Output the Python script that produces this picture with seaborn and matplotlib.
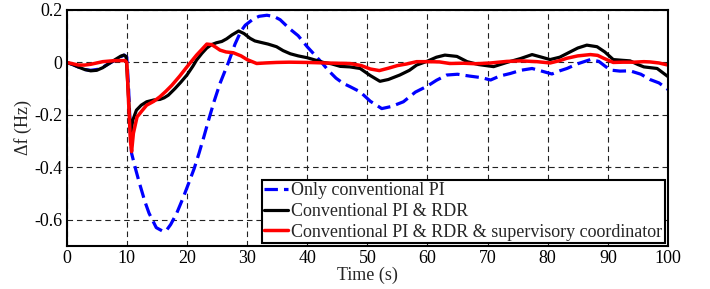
import matplotlib
matplotlib.use("Agg")
import matplotlib.pyplot as plt
import seaborn as sns
import pandas as pd

# ---- data ----
t_pi = [0, 1, 2, 3, 4, 5, 6, 7, 8, 9, 9.6, 10.0, 10.3, 10.6, 10.8, 11.5, 12.1, 13, 13.7, 14.9,
        16.1, 16.6, 17.3, 18.3, 19.3, 20.3, 21.2, 22, 22.8, 23.6, 24.5, 25.5, 26.9, 28, 29, 29.7,
        31, 32, 33.3, 34.5, 35.5, 37, 38.5, 40, 41.2, 42.4, 43.5, 44.8, 46, 47.1, 48.8, 50.5,
        52.4, 54, 56, 58, 60, 61.5, 63.2, 65, 67, 69, 70.5, 72, 73.8, 75.5, 77.4, 79, 80.7, 82,
        83.2, 85, 87.1, 88.5, 90.4, 92, 93.7, 95.5, 97, 98.5, 100]
f_pi = [0, -0.008, -0.018, -0.027, -0.03, -0.027, -0.018, -0.005, 0.008, 0.022, 0.028, 0.02,
        -0.1, -0.27, -0.347, -0.41, -0.46, -0.53, -0.575, -0.63, -0.645, -0.64, -0.618, -0.575,
        -0.52, -0.46, -0.405, -0.347, -0.285, -0.22, -0.15, -0.08, 0.0, 0.07, 0.12, 0.142,
        0.165, 0.176, 0.18, 0.175, 0.163, 0.13, 0.102, 0.06, 0.03, 0.0, -0.03, -0.06, -0.08,
        -0.092, -0.112, -0.148, -0.176, -0.168, -0.15, -0.113, -0.09, -0.068, -0.048, -0.045,
        -0.052, -0.058, -0.067, -0.052, -0.042, -0.03, -0.023, -0.033, -0.044, -0.032, -0.023,
        -0.005, 0.011, 0.004, -0.029, -0.033, -0.032, -0.045, -0.065, -0.078, -0.103]

t_rdr = [0, 1, 2, 3, 4, 5, 6, 7, 8, 9, 9.5, 9.9, 10.2, 10.5, 10.7, 11.0, 11.6, 12.4, 13.3,
         14.5, 15.5, 16.2, 16.9, 18, 19, 20, 21, 21.6, 22.5, 23.3, 24.1, 24.9, 25.8, 26.6, 27.5,
         28.6, 29.5, 30.5, 31.3, 32.2, 33.5, 34.9, 36, 37.2, 38.5, 40, 41.5, 42.7, 44, 45.5,
         47.1, 48.8, 50.5, 52.1, 53.5, 55.4, 57, 58.2, 60, 61.5, 62.9, 64.9, 66.6, 68.5, 71,
         73.2, 75.5, 77.4, 79, 80.4, 82, 83.2, 85, 86.5, 88.2, 89.5, 90.9, 92.5, 93.7, 95, 96,
         98.2, 100]
f_rdr = [0, -0.008, -0.018, -0.027, -0.032, -0.03, -0.02, -0.005, 0.01, 0.024, 0.028, 0.022,
         -0.1, -0.22, -0.265, -0.22, -0.182, -0.163, -0.15, -0.143, -0.141, -0.135, -0.125,
         -0.1, -0.075, -0.048, -0.014, 0.009, 0.035, 0.055, 0.068, 0.075, 0.08, 0.09, 0.105,
         0.12, 0.11, 0.092, 0.082, 0.077, 0.07, 0.06, 0.045, 0.033, 0.025, 0.018, 0.008, 0.0,
         -0.005, -0.015, -0.017, -0.023, -0.05, -0.072, -0.065, -0.048, -0.03, -0.01, 0.005,
         0.02, 0.028, 0.023, 0.003, -0.008, -0.016, 0.0, 0.015, 0.03, 0.02, 0.011, 0.02, 0.034,
         0.055, 0.066, 0.06, 0.04, 0.011, 0.008, 0.006, -0.008, -0.017, -0.023, -0.054]

t_sc = [0, 1, 2, 3, 4, 5, 6, 7, 8, 9.7, 10.0, 10.3, 10.6, 10.8, 11.1, 11.7, 12.5, 13.3, 14.5,
        15.5, 16.5, 17.5, 18.8, 20, 21.6, 22.5, 23.3, 24.1, 24.8, 25.5, 26.5, 27.7, 29, 30,
        31.6, 33, 34.9, 37, 40, 43, 45, 47.1, 49, 50.5, 52, 53.5, 55, 56.5, 58.2, 60, 62, 63.7,
        66, 68, 70.5, 73.2, 75.5, 78.2, 80.4, 82, 83.2, 85, 87.1, 88.3, 89.3, 90.9, 92.5, 94.3,
        96, 97, 98.5, 100]
f_sc = [0, -0.005, -0.01, -0.01, -0.007, -0.002, 0.003, 0.005, 0.007, 0.007, 0.0, -0.15, -0.3,
        -0.34, -0.27, -0.208, -0.185, -0.163, -0.148, -0.131, -0.11, -0.087, -0.052, -0.017,
        0.028, 0.05, 0.07, 0.068, 0.058, 0.047, 0.04, 0.037, 0.025, 0.011, -0.004, -0.002, 0.0,
        0.001, 0.0, -0.002, -0.003, -0.004, -0.012, -0.025, -0.031, -0.022, -0.012, -0.006,
        0.003, 0.003, 0.002, -0.004, -0.003, -0.005, -0.002, 0.004, 0.006, 0.003, -0.002,
        0.007, 0.016, 0.025, 0.03, 0.027, 0.016, 0.0, 0.001, 0.001, 0.003, 0.002, -0.002, -0.01]

labels = ["Only conventional PI",
          "Conventional PI & RDR",
          "Conventional PI & RDR & supervisory coordinator"]
xticks = [0, 10, 20, 30, 40, 50, 60, 70, 80, 90, 100]
yticks = [-0.6, -0.4, -0.2, 0, 0.2]
ytick_labels = ["-0.6", "-0.4", "-0.2", "0", "0.2"]

# ---- style ----
sns.set_style("white")
plt.rcParams["font.family"] = ["Liberation Serif", "DejaVu Serif"]
plt.rcParams["axes.unicode_minus"] = False

fig = plt.figure(figsize=(7.1, 2.89), dpi=100)
ax = fig.add_axes([0.0939, 0.1488, 0.8469, 0.8166])

df_pi = pd.DataFrame({"t": t_pi, "f": f_pi})
df_rdr = pd.DataFrame({"t": t_rdr, "f": f_rdr})
df_sc = pd.DataFrame({"t": t_sc, "f": f_sc})

sns.lineplot(data=df_pi, x="t", y="f", ax=ax, color="#0000ff", lw=2.3,
             dashes=False, label=labels[0], linestyle=(0, (4.2, 1.9)), sort=False)
sns.lineplot(data=df_rdr, x="t", y="f", ax=ax, color="black", lw=2.3,
             label=labels[1], sort=False)
sns.lineplot(data=df_sc, x="t", y="f", ax=ax, color="#ff0000", lw=2.5,
             label=labels[2], sort=False)

ax.set_xlim(0, 100)
ax.set_ylim(-0.7, 0.2)
ax.set_xticks(xticks)
ax.set_xticklabels([str(v) for v in xticks])
ax.set_yticks(yticks)
ax.set_yticklabels(ytick_labels)
ax.tick_params(axis="both", labelsize=13, direction="in", length=3, width=1,
               colors="black", pad=3)
ax.grid(True, color="#222222", linestyle=(0, (5, 3.5)), linewidth=0.8)
for s in ax.spines.values():
    s.set_color("black")
    s.set_linewidth(1.5)

ax.set_xlabel("Time (s)", fontsize=13, labelpad=0)
ax.set_ylabel("Δf (Hz)", fontsize=13, labelpad=2)

leg = ax.legend(loc="lower right", fontsize=13, frameon=True, fancybox=False,
                borderpad=0.15, labelspacing=0.2, handlelength=1.3, handletextpad=0.2,
                borderaxespad=0.15)
leg.get_frame().set_edgecolor("black")
leg.get_frame().set_linewidth(1.5)
leg.get_frame().set_alpha(1)

fig.savefig("out.png", dpi=100)
